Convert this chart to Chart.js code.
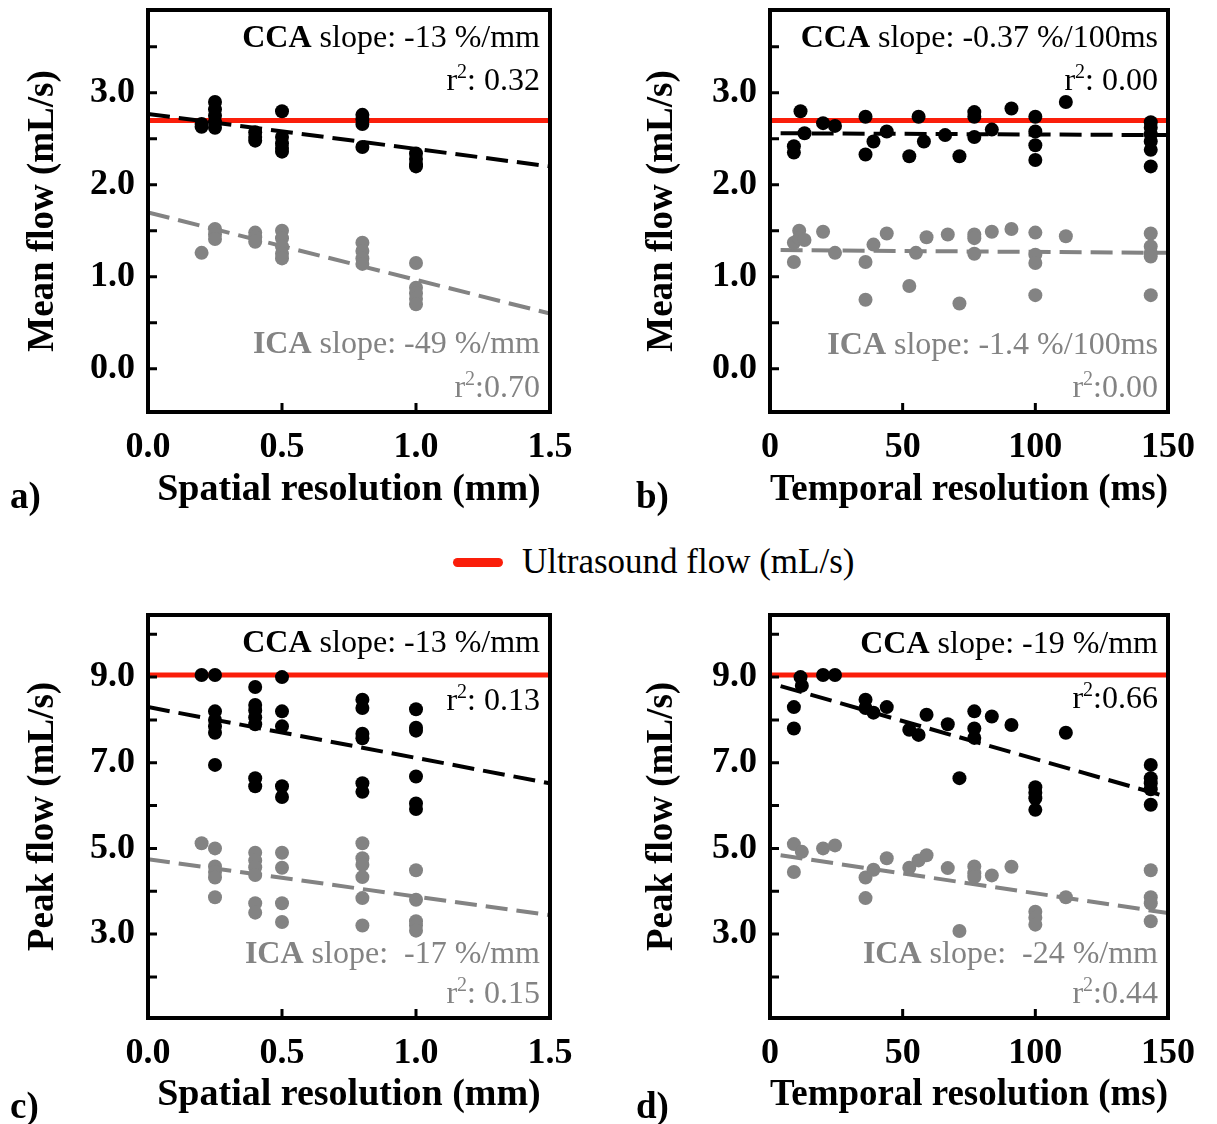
<!DOCTYPE html>
<html>
<head>
<meta charset="utf-8">
<script src="https://cdn.jsdelivr.net/npm/chart.js@4.4.1/dist/chart.umd.min.js"></script>
<style>
  body { margin: 0; background: #fff; width: 1217px; height: 1124px; position: relative; overflow: hidden; }
  canvas { position: absolute; }
  .tag { position: absolute; font: bold 37px "Liberation Serif", "Times New Roman", serif; color: #000; }
  #legend { position: absolute; left: 453px; top: 540px; height: 44px; display: flex; align-items: center;
            font: 35px "Liberation Serif", "Times New Roman", serif; color: #000; }
  #legend span.bar { display: inline-block; width: 50px; height: 9px; border-radius: 5px; background: #fa1e0a; margin-right: 19px; }
</style>
</head>
<body>
<canvas id="panelA" width="610" height="524" style="left:0;top:0"></canvas>
<canvas id="panelB" width="607" height="524" style="left:610px;top:0"></canvas>
<canvas id="panelC" width="610" height="524" style="left:0;top:600px"></canvas>
<canvas id="panelD" width="607" height="524" style="left:610px;top:600px"></canvas>
<div class="tag" style="left:10px;top:474px">a)</div>
<div class="tag" style="left:636px;top:474px">b)</div>
<div class="tag" style="left:10px;top:1084px">c)</div>
<div class="tag" style="left:636px;top:1084px">d)</div>
<div id="legend"><span class="bar"></span>Ultrasound flow (mL/s)</div>
<script>
const SERIF = '"Liberation Serif", "Times New Roman", serif';
const GRAY = '#838383';
const RED = '#fa1e0a';

// tick values
const spatialTicks = [0, 0.5, 1.0, 1.5];
const temporalTicks = [0, 50, 100, 150];
const meanTicks = [0, 1, 2, 3];
const peakTicks = [3, 5, 7, 9];
const spatialMarks = [0.5, 1.0];
const temporalMarks = [50, 100];
const meanMarks = [0, 0.5, 1, 1.5, 2, 2.5, 3, 3.5];
const peakMarks = [2, 3, 4, 5, 6, 7, 8, 9, 10];

// a) mean flow vs spatial resolution
const meanSpatialCcaX = [0.2,0.2,0.25,0.25,0.25,0.25,0.25,0.4,0.4,0.4,0.5,0.5,0.5,0.5,0.5,0.8,0.8,0.8,0.8,1.0,1.0,1.0,1.0];
const meanSpatialCcaY = [2.63,2.66,2.90,2.82,2.75,2.68,2.62,2.57,2.52,2.48,2.80,2.52,2.45,2.40,2.36,2.76,2.71,2.66,2.41,2.34,2.28,2.22,2.20];
const meanSpatialIcaX = [0.2,0.25,0.25,0.25,0.4,0.4,0.4,0.5,0.5,0.5,0.5,0.5,0.8,0.8,0.8,0.8,1.0,1.0,1.0,1.0,1.0];
const meanSpatialIcaY = [1.26,1.52,1.46,1.41,1.48,1.43,1.38,1.50,1.42,1.33,1.25,1.20,1.37,1.28,1.20,1.14,1.15,0.88,0.82,0.76,0.70];
const meanSpatialFitX = [0, 1.5];
const meanSpatialCcaFit = [2.77, 2.20];
const meanSpatialIcaFit = [1.70, 0.60];

// b) mean flow vs temporal resolution
const meanTemporalCcaX = [9,9,11.5,13,20,24.5,36,36,39,44,52.5,56,58,66,71.4,77,77,77,83.6,91,100,100,100,100,111.5,143.5,143.5,143.5,143.5,143.5,143.5];
const meanTemporalCcaY = [2.42,2.35,2.80,2.56,2.67,2.64,2.74,2.33,2.47,2.58,2.31,2.74,2.47,2.54,2.31,2.79,2.74,2.52,2.60,2.83,2.74,2.58,2.43,2.27,2.90,2.68,2.62,2.55,2.47,2.38,2.20];
const meanTemporalIcaX = [9,9,11,11,13,20,24.5,36,36,39,44,52.5,55,59,67,71.4,77,77,77,83.6,91,100,100,100,100,111.5,143.5,143.5,143.5,143.5,143.5];
const meanTemporalIcaY = [1.16,1.37,1.50,1.42,1.40,1.49,1.26,1.16,0.75,1.35,1.47,0.90,1.26,1.43,1.46,0.71,1.46,1.42,1.25,1.49,1.52,1.48,1.24,1.15,0.80,1.44,1.47,1.33,1.26,1.22,0.80];
const meanTemporalFitX = [4, 150];
const meanTemporalCcaFit = [2.56, 2.54];
const meanTemporalIcaFit = [1.29, 1.26];

// c) peak flow vs spatial resolution
const peakSpatialCcaX = [0.2,0.25,0.25,0.25,0.25,0.25,0.25,0.4,0.4,0.4,0.4,0.4,0.4,0.4,0.5,0.5,0.5,0.5,0.5,0.8,0.8,0.8,0.8,0.8,0.8,1.0,1.0,1.0,1.0,1.0,1.0];
const peakSpatialCcaY = [9.05,9.05,8.20,8.00,7.85,7.70,6.95,8.77,8.35,8.22,8.06,7.90,6.64,6.45,9.00,8.20,7.85,6.45,6.20,8.47,8.28,7.68,7.57,6.52,6.32,8.25,7.82,7.75,6.68,6.05,5.92];
const peakSpatialIcaX = [0.2,0.25,0.25,0.25,0.25,0.25,0.4,0.4,0.4,0.4,0.4,0.4,0.5,0.5,0.5,0.5,0.8,0.8,0.8,0.8,0.8,0.8,1.0,1.0,1.0,1.0,1.0];
const peakSpatialIcaY = [5.12,5.00,4.58,4.45,4.32,3.86,4.90,4.72,4.56,4.38,3.72,3.50,4.90,4.55,3.72,3.28,5.12,4.77,4.62,4.33,3.84,3.20,4.49,3.80,3.30,3.20,3.08];
const peakSpatialFitX = [0, 1.5];
const peakSpatialCcaFit = [8.30, 6.52];
const peakSpatialIcaFit = [4.75, 3.44];

// d) peak flow vs temporal resolution
const peakTemporalCcaX = [9,9,11.5,12,20,24.5,36,36,39,44,52.5,56,59,67,71.4,77,77,77,83.6,91,100,100,100,100,111.5,143.5,143.5,143.5,143.5,143.5];
const peakTemporalCcaY = [8.30,7.80,9.00,8.80,9.05,9.05,8.47,8.28,8.17,8.30,7.77,7.65,8.12,7.90,6.64,8.20,7.80,7.58,8.08,7.88,6.43,6.30,6.17,5.90,7.70,6.95,6.64,6.52,6.38,6.02];
const peakTemporalIcaX = [9,9,12,20,24.5,36,36,39,44,52.5,56,59,67,71.4,77,77,77,83.6,91,100,100,100,111.5,143.5,143.5,143.5,143.5];
const peakTemporalIcaY = [5.10,4.45,4.92,5.00,5.07,4.32,3.84,4.50,4.77,4.55,4.72,4.84,4.54,3.07,4.58,4.42,4.33,4.37,4.57,3.52,3.38,3.22,3.86,4.49,3.86,3.72,3.30];
const peakTemporalFitX = [4, 150];
const peakTemporalCcaFit = [8.79, 6.20];
const peakTemporalIcaFit = [4.84, 3.49];

// ultrasound reference flow
const ultrasoundMean = 2.70;
const ultrasoundPeak = 9.05;

function pts(xs, ys) {
  return xs.map((x, i) => ({x: x, y: ys[i]}));
}

// frame, inside tick marks and the slope / r2 notes
const framePlugin = {
  id: 'frame',
  afterDatasetsDraw(chart, args, opts) {
    const ctx = chart.ctx;
    const a = chart.chartArea;
    const xs = chart.scales.x, ys = chart.scales.y;
    ctx.save();
    ctx.strokeStyle = '#000';
    ctx.lineWidth = 4;
    ctx.strokeRect(a.left, a.top, a.right - a.left, a.bottom - a.top);
    ctx.lineWidth = 3;
    ctx.beginPath();
    opts.yMarks.forEach(v => {
      const p = ys.getPixelForValue(v);
      ctx.moveTo(a.left, p); ctx.lineTo(a.left + 9, p);
    });
    opts.xMarks.forEach(v => {
      const p = xs.getPixelForValue(v);
      ctx.moveTo(p, a.bottom); ctx.lineTo(p, a.bottom - 9);
    });
    ctx.stroke();

    ctx.textBaseline = 'alphabetic';
    opts.notes.forEach(n => {
      const fonts = n.parts.map(p => {
        if (p[1] === 'sup') return '20px ' + SERIF;
        return (p[1] === true ? 'bold ' : '') + '32px ' + SERIF;
      });
      let w = 0;
      n.parts.forEach((p, i) => { ctx.font = fonts[i]; w += ctx.measureText(p[0]).width; });
      let x = a.right - 10 - w;
      const y = a.top + n.dy;
      ctx.fillStyle = n.color;
      n.parts.forEach((p, i) => {
        ctx.font = fonts[i];
        ctx.fillText(p[0], x, p[1] === 'sup' ? y - 12 : y);
        x += ctx.measureText(p[0]).width;
      });
    });
    ctx.restore();
  }
};

function makeChart(id, c) {
  const datasets = [
    {data: pts(c.ccaX, c.ccaY), backgroundColor: '#000', borderWidth: 0, pointRadius: 7, order: 1},
    {data: pts(c.icaX, c.icaY), backgroundColor: GRAY, borderWidth: 0, pointRadius: 7, order: 1},
    {data: pts(c.fitX, c.ccaFit), showLine: true, borderColor: '#000', borderWidth: 4, borderDash: [22, 9], pointRadius: 0, order: 2},
    {data: pts(c.fitX, c.icaFit), showLine: true, borderColor: GRAY, borderWidth: 4, borderDash: [22, 9], pointRadius: 0, order: 2},
    {data: pts([c.xMin, c.xMax], [c.us, c.us]), showLine: true, borderColor: RED, borderWidth: 5, pointRadius: 0, order: 3}
  ];
  new Chart(document.getElementById(id), {
    type: 'scatter',
    data: {datasets: datasets},
    plugins: [framePlugin],
    options: {
      responsive: false,
      animation: false,
      events: [],
      layout: {padding: c.pad},
      plugins: {
        legend: {display: false},
        tooltip: {enabled: false},
        frame: {xMarks: c.xMarks, yMarks: c.yMarks, notes: c.notes}
      },
      scales: {
        x: {
          type: 'linear', min: c.xMin, max: c.xMax,
          grid: {display: false}, border: {display: false},
          afterBuildTicks: s => { s.ticks = c.xTicks.map(v => ({value: v})); },
          afterFit: s => { s.height = c.xHeight; s.paddingLeft = 0; s.paddingRight = 0; },
          ticks: {autoSkip: false, maxRotation: 0, padding: 6, color: '#000',
                  font: {family: SERIF, size: 36, weight: 'bold'},
                  callback: v => c.xFmt(v)},
          title: {display: true, text: c.xTitle, color: '#000',
                  font: {family: SERIF, size: 38, weight: 'bold'},
                  padding: {top: 0, bottom: c.xTitlePad}}
        },
        y: {
          type: 'linear', min: c.yMin, max: c.yMax,
          grid: {display: false}, border: {display: false},
          afterBuildTicks: s => { s.ticks = c.yTicks.map(v => ({value: v})); },
          afterFit: s => { s.width = c.yWidth; s.paddingTop = 0; s.paddingBottom = 0; },
          ticks: {autoSkip: false, padding: 5, color: '#000',
                  font: {family: SERIF, size: 36, weight: 'bold'},
                  callback: v => v.toFixed(1)},
          title: {display: true, text: c.yTitle, color: '#000',
                  font: {family: SERIF, size: 37, weight: 'bold'},
                  padding: {top: c.yTitlePad, bottom: 0}}
        }
      }
    }
  });
}

const r2 = (txt) => [['r'], ['2', 'sup'], [txt]];

makeChart('panelA', {
  ccaX: meanSpatialCcaX, ccaY: meanSpatialCcaY, icaX: meanSpatialIcaX, icaY: meanSpatialIcaY,
  fitX: meanSpatialFitX, ccaFit: meanSpatialCcaFit, icaFit: meanSpatialIcaFit, us: ultrasoundMean,
  xMin: 0, xMax: 1.5, yMin: -0.47, yMax: 3.9,
  xTicks: spatialTicks, yTicks: meanTicks, xMarks: spatialMarks, yMarks: meanMarks,
  xFmt: v => v.toFixed(1), xTitle: 'Spatial resolution (mm)', yTitle: 'Mean flow (mL/s)',
  pad: {left: 0, top: 10, right: 60, bottom: 0}, yWidth: 148, xHeight: 112, xTitlePad: 11, yTitlePad: 21,
  notes: [
    {parts: [['CCA', true], [' slope: -13 %/mm']], color: '#000', dy: 37},
    {parts: r2(': 0.32'), color: '#000', dy: 80},
    {parts: [['ICA', true], [' slope: -49 %/mm']], color: GRAY, dy: 343},
    {parts: r2(':0.70'), color: GRAY, dy: 387}
  ]
});

makeChart('panelB', {
  ccaX: meanTemporalCcaX, ccaY: meanTemporalCcaY, icaX: meanTemporalIcaX, icaY: meanTemporalIcaY,
  fitX: meanTemporalFitX, ccaFit: meanTemporalCcaFit, icaFit: meanTemporalIcaFit, us: ultrasoundMean,
  xMin: 0, xMax: 150, yMin: -0.47, yMax: 3.9,
  xTicks: temporalTicks, yTicks: meanTicks, xMarks: temporalMarks, yMarks: meanMarks,
  xFmt: v => String(v), xTitle: 'Temporal resolution (ms)', yTitle: 'Mean flow (mL/s)',
  pad: {left: 0, top: 10, right: 49, bottom: 0}, yWidth: 160, xHeight: 112, xTitlePad: 11, yTitlePad: 30,
  notes: [
    {parts: [['CCA', true], [' slope: -0.37 %/100ms']], color: '#000', dy: 37},
    {parts: r2(': 0.00'), color: '#000', dy: 80},
    {parts: [['ICA', true], [' slope: -1.4 %/100ms']], color: GRAY, dy: 344},
    {parts: r2(':0.00'), color: GRAY, dy: 387}
  ]
});

makeChart('panelC', {
  ccaX: peakSpatialCcaX, ccaY: peakSpatialCcaY, icaX: peakSpatialIcaX, icaY: peakSpatialIcaY,
  fitX: peakSpatialFitX, ccaFit: peakSpatialCcaFit, icaFit: peakSpatialIcaFit, us: ultrasoundPeak,
  xMin: 0, xMax: 1.5, yMin: 1.04, yMax: 10.45,
  xTicks: spatialTicks, yTicks: peakTicks, xMarks: spatialMarks, yMarks: peakMarks,
  xFmt: v => v.toFixed(1), xTitle: 'Spatial resolution (mm)', yTitle: 'Peak flow (mL/s)',
  pad: {left: 0, top: 15, right: 60, bottom: 0}, yWidth: 148, xHeight: 106, xTitlePad: 6, yTitlePad: 21,
  notes: [
    {parts: [['CCA', true], [' slope: -13 %/mm']], color: '#000', dy: 37},
    {parts: r2(': 0.13'), color: '#000', dy: 95},
    {parts: [['ICA', true], [' slope:  -17 %/mm']], color: GRAY, dy: 348},
    {parts: r2(': 0.15'), color: GRAY, dy: 388}
  ]
});

makeChart('panelD', {
  ccaX: peakTemporalCcaX, ccaY: peakTemporalCcaY, icaX: peakTemporalIcaX, icaY: peakTemporalIcaY,
  fitX: peakTemporalFitX, ccaFit: peakTemporalCcaFit, icaFit: peakTemporalIcaFit, us: ultrasoundPeak,
  xMin: 0, xMax: 150, yMin: 1.04, yMax: 10.45,
  xTicks: temporalTicks, yTicks: peakTicks, xMarks: temporalMarks, yMarks: peakMarks,
  xFmt: v => String(v), xTitle: 'Temporal resolution (ms)', yTitle: 'Peak flow (mL/s)',
  pad: {left: 0, top: 15, right: 49, bottom: 0}, yWidth: 160, xHeight: 106, xTitlePad: 6, yTitlePad: 30,
  notes: [
    {parts: [['CCA', true], [' slope: -19 %/mm']], color: '#000', dy: 38},
    {parts: r2(':0.66'), color: '#000', dy: 93},
    {parts: [['ICA', true], [' slope:  -24 %/mm']], color: GRAY, dy: 348},
    {parts: r2(':0.44'), color: GRAY, dy: 388}
  ]
});
</script>
</body>
</html>
